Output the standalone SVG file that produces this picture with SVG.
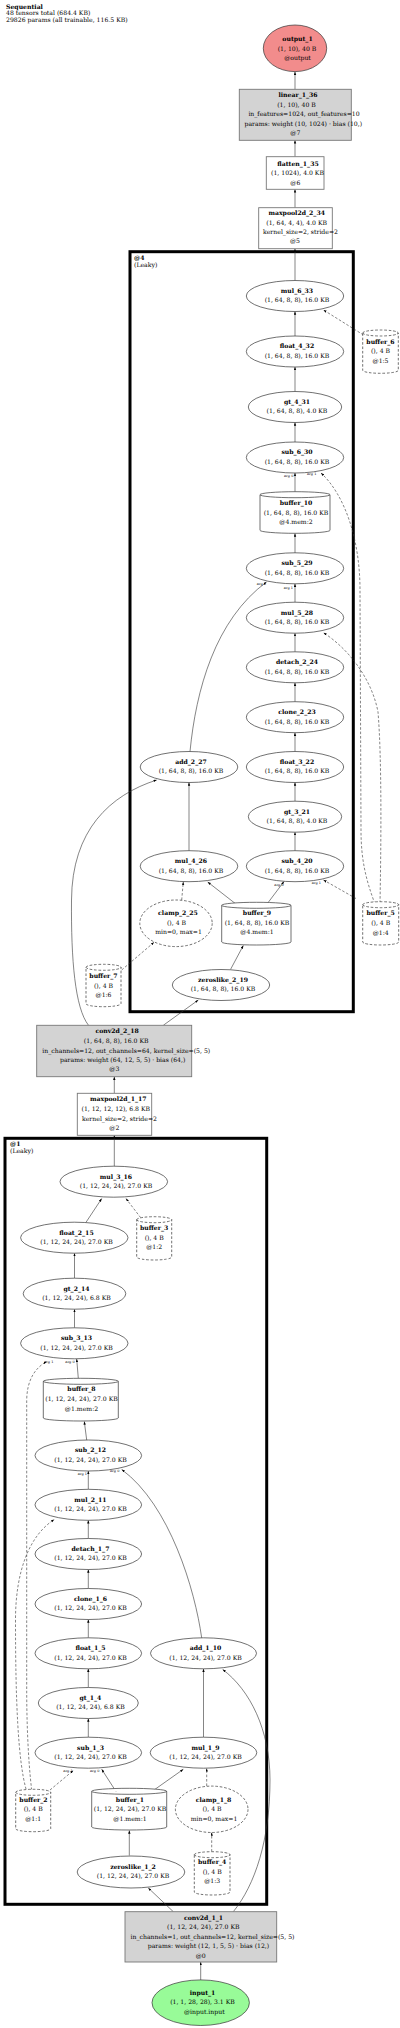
<svg xmlns="http://www.w3.org/2000/svg" width="400" height="2028" viewBox="0 0 400 2028">
<style>
.t{font-family:"DejaVu Serif","Liberation Serif",serif;font-size:6.15px;fill:#000;text-anchor:middle}
.l{text-anchor:start}
.b{font-weight:bold}
.a{font-size:3.5px}
.n{fill:#fff;stroke:#333;stroke-width:0.7}
.bx{fill:#fff;stroke:#777;stroke-width:0.9}
.g{fill:#d3d3d3}
.d{stroke-dasharray:2.6,1.8}
.c{fill:none;stroke:#000;stroke-width:3}
.e{fill:none;stroke:#333;stroke-width:0.6;marker-end:url(#ah)}
</style>
<defs>
<marker id="ah" markerUnits="userSpaceOnUse" markerWidth="4" markerHeight="3" refX="3.2" refY="1.2" orient="auto"><path d="M0,0 L3.2,1.2 L0,2.4z" fill="#000"/></marker>
</defs>
<rect width="400" height="2028" fill="#fff"/>
<g id="header">
<text class="t l b" x="6" y="8.5">Sequential</text>
<text class="t l" x="6" y="15.3">48 tensors total (684.4 KB)</text>
<text class="t l" x="6" y="22">29826 params (all trainable, 116.5 KB)</text>
</g>
<g id="cluster_4">
<rect class="c" x="130" y="251.7" width="223.3" height="760"/>
<text class="t l b" x="134" y="259.6">@4</text>
<text class="t l" x="134" y="266.6">(Leaky)</text>
</g>
<g id="cluster_1">
<rect class="c" x="5" y="1138.3" width="261.7" height="766"/>
<text class="t l b" x="10" y="1146">@1</text>
<text class="t l" x="10" y="1152.6">(Leaky)</text>
</g>
<g id="edges">
<path class="e" d="M295,89.3 L295,71.8"/>
<path class="e" d="M295,156.7 L295,140.3"/>
<path class="e" d="M295,207.7 L295,189.3"/>
<path class="e" d="M295,280.5 L295,248.7"/>
<path class="e" d="M295,336 L295,311.5"/>
<path class="e d" d="M363.5,335 L323.5,310"/>
<path class="e" d="M295,391.5 L295,367"/>
<path class="e" d="M295,442 L295,422.5"/>
<path class="e" d="M295,491.7 L295,473"/>
<path class="e d" d="M375,904 C 366,880 361,860 361,830 L360,590 C 360,540 345,495 321,473"/>
<path class="e" d="M295,553 L295,533.5"/>
<path class="e" d="M295,602.2 L295,583.8"/>
<path class="e" d="M190,751.5 C 196,690 215,620 266.5,582"/>
<path class="e" d="M295,651.8 L295,633.2"/>
<path class="e d" d="M380,903 C 381,850 382,760 378,712 C 372,680 350,650 323.5,632.7"/>
<path class="e" d="M295,701.7 L295,682.8"/>
<path class="e" d="M295,751.5 L295,732.7"/>
<path class="e" d="M295,801.2 L295,782.5"/>
<path class="e" d="M295,850.7 L295,832.2"/>
<path class="e" d="M268.3,902.3 L284,881.5"/>
<path class="e d" d="M356,898.5 L323.5,880"/>
<path class="e" d="M235,903.3 L207.7,882"/>
<path class="e d" d="M181.7,900 L183.3,881.7"/>
<path class="e" d="M189,850.7 L189,782.5"/>
<path class="e d" d="M121.7,970 L154,942.3"/>
<path class="e" d="M230.5,969.5 L243.3,945.5"/>
<path class="e" d="M163.3,1025.3 L198.3,1000"/>
<path class="e" d="M88.5,1025.3 C 75,1008 71,960 71.5,900 C 72,830 110,795 156.7,780"/>
<path class="e" d="M114.3,1093.3 L114.3,1076.7"/>
<path class="e" d="M114.3,1166.2 L114.3,1135.3"/>
<path class="e" d="M86,1222.3 L101.7,1198.6"/>
<path class="e d" d="M140.7,1217.7 L126,1198.6"/>
<path class="e" d="M74.5,1278.2 L74.5,1253.2"/>
<path class="e" d="M74.5,1327.8 L74.5,1309.2"/>
<path class="e" d="M78.3,1378.3 L76.7,1359"/>
<path class="e d" d="M31.7,1790 C 28,1760 26.7,1720 26.7,1690 L26.7,1400 C 27,1380 35,1368 46.7,1361.5"/>
<path class="e d" d="M26,1789 C 18,1760 15.5,1700 15.5,1620 C 15.5,1570 30,1535 54.3,1519.5"/>
<path class="e" d="M88.3,1489.3 L88.3,1471"/>
<path class="e" d="M201.7,1638 C 195,1590 170,1505 121.7,1469.5"/>
<path class="e" d="M86.7,1440 L84.3,1421.5"/>
<path class="e" d="M88.3,1538.5 L88.3,1520.3"/>
<path class="e" d="M88.3,1588.5 L88.3,1569.5"/>
<path class="e" d="M88.3,1637.8 L88.3,1619.5"/>
<path class="e" d="M88.3,1687.5 L88.3,1668.8"/>
<path class="e" d="M88.3,1737.2 L88.3,1718.5"/>
<path class="e d" d="M50,1790 L73.3,1770.5"/>
<path class="e" d="M116,1791.5 L101.7,1769.3"/>
<path class="e" d="M153.3,1790.5 L183.3,1769.3"/>
<path class="e d" d="M206.7,1786 L206.7,1768.3"/>
<path class="e d" d="M211.7,1851.7 L211.7,1832.5"/>
<path class="e" d="M203.5,1737.2 L203.5,1668.8"/>
<path class="e" d="M233.3,1911.7 C 255,1885 270,1840 270,1780 C 270,1730 250,1690 222.7,1669.5"/>
<path class="e" d="M129.3,1855.5 L129.3,1830.5"/>
<path class="e" d="M173.3,1911.7 L148.3,1888"/>
<path class="e" d="M200.7,1980 L200.7,1962"/>
<text class="t a" x="288.7" y="476.9">arg 0</text>
<text class="t a" x="311.7" y="475.2">arg 1</text>
<text class="t a" x="261.3" y="585.2">arg 0</text>
<text class="t a" x="288.3" y="588.5">arg 1</text>
<text class="t a" x="279" y="885.9">arg 0</text>
<text class="t a" x="316.3" y="883.5">arg 1</text>
<text class="t a" x="48.7" y="1362.5">arg 1</text>
<text class="t a" x="70" y="1363.2">arg 0</text>
<text class="t a" x="82.3" y="1474.9">arg 1</text>
<text class="t a" x="114.7" y="1471.5">arg 0</text>
<text class="t a" x="68" y="1771.9">arg 1</text>
<text class="t a" x="94.7" y="1771.9">arg 0</text>
</g>
<g id="output_1">
<ellipse class="n" cx="295" cy="48.3" rx="31.7" ry="23.3" style="fill:#f28c8c"/>
<text class="t b" x="297.5" y="41.1">output_1</text>
<text class="t" x="297" y="51.1">(1, 10), 40 B</text>
<text class="t" x="297.5" y="60.4">@output</text>
</g>
<g id="linear_1_36">
<rect class="bx g" x="239.3" y="89.3" width="112" height="51"/>
<text class="t b" x="298" y="97.4">linear_1_36</text>
<text class="t" x="296.5" y="107.4">(1, 10), 40 B</text>
<text class="t" x="304" y="116.4">in_features=1024, out_features=10</text>
<text class="t" x="303.3" y="125.8">params: weight (10, 1024) · bias (10,)</text>
<text class="t" x="295.3" y="135.4">@7</text>
</g>
<g id="flatten_1_35">
<rect class="bx" x="266.3" y="156.7" width="57.7" height="32.6"/>
<text class="t b" x="298" y="165.8">flatten_1_35</text>
<text class="t" x="297.5" y="175.4">(1, 1024), 4.0 KB</text>
<text class="t" x="295.3" y="185.1">@6</text>
</g>
<g id="maxpool2d_2_34">
<rect class="bx" x="258.7" y="207.7" width="73.6" height="41"/>
<text class="t b" x="296.7" y="215.4">maxpool2d_2_34</text>
<text class="t" x="296.7" y="225.1">(1, 64, 4, 4), 4.0 KB</text>
<text class="t" x="300.5" y="234.4">kernel_size=2, stride=2</text>
<text class="t" x="295" y="243.4">@5</text>
</g>
<g id="mul_6_33"><ellipse class="n" cx="295" cy="296" rx="48.7" ry="15.5"/><text class="t b" x="297" y="292.8">mul_6_33</text><text class="t" x="297" y="302.4">(1, 64, 8, 8), 16.0 KB</text></g>
<g id="buffer_6"><path class="n d" d="M362.7,333 A17.8,3 0 0 1 398.3,333 V370.3 A17.8,3 0 0 1 362.7,370.3 Z M362.7,333 A17.8,3 0 0 0 398.3,333"/><text class="t b" x="380.5" y="343.6">buffer_6</text><text class="t" x="380.5" y="353.4">(), 4 B</text><text class="t" x="380.5" y="362.9">@1:5</text></g>
<g id="float_4_32"><ellipse class="n" cx="295" cy="351.5" rx="48.7" ry="15.5"/><text class="t b" x="297" y="348.3">float_4_32</text><text class="t" x="297" y="357.9">(1, 64, 8, 8), 16.0 KB</text></g>
<g id="gt_4_31"><ellipse class="n" cx="295" cy="407" rx="46.7" ry="15.5"/><text class="t b" x="297" y="403.8">gt_4_31</text><text class="t" x="297" y="413.4">(1, 64, 8, 8), 4.0 KB</text></g>
<g id="sub_6_30"><ellipse class="n" cx="295" cy="457.5" rx="48.7" ry="15.5"/><text class="t b" x="297" y="454.3">sub_6_30</text><text class="t" x="297" y="463.9">(1, 64, 8, 8), 16.0 KB</text></g>
<g id="buffer_10"><path class="n" d="M260,494.7 A35,3 0 0 1 330,494.7 V530.3 A35,3 0 0 1 260,530.3 Z M260,494.7 A35,3 0 0 0 330,494.7"/><text class="t b" x="296" y="505.2">buffer_10</text><text class="t" x="296" y="514.6">(1, 64, 8, 8), 16.0 KB</text><text class="t" x="296" y="524.2">@4.mem:2</text></g>
<g id="sub_5_29"><ellipse class="n" cx="295" cy="568.3" rx="48.7" ry="15.5"/><text class="t b" x="297" y="565.1">sub_5_29</text><text class="t" x="297" y="574.7">(1, 64, 8, 8), 16.0 KB</text></g>
<g id="mul_5_28"><ellipse class="n" cx="295" cy="617.7" rx="48.7" ry="15.5"/><text class="t b" x="297" y="614.5">mul_5_28</text><text class="t" x="297" y="624.1">(1, 64, 8, 8), 16.0 KB</text></g>
<g id="detach_2_24"><ellipse class="n" cx="295" cy="667.3" rx="48.7" ry="15.5"/><text class="t b" x="297" y="664.1">detach_2_24</text><text class="t" x="297" y="673.7">(1, 64, 8, 8), 16.0 KB</text></g>
<g id="clone_2_23"><ellipse class="n" cx="295" cy="717.2" rx="48.7" ry="15.5"/><text class="t b" x="297" y="714">clone_2_23</text><text class="t" x="297" y="723.6">(1, 64, 8, 8), 16.0 KB</text></g>
<g id="float_3_22"><ellipse class="n" cx="295" cy="767" rx="48.7" ry="15.5"/><text class="t b" x="297" y="763.8">float_3_22</text><text class="t" x="297" y="773.4">(1, 64, 8, 8), 16.0 KB</text></g>
<g id="add_2_27"><ellipse class="n" cx="189" cy="767" rx="48.8" ry="15.5"/><text class="t b" x="191" y="763.8">add_2_27</text><text class="t" x="191" y="773.4">(1, 64, 8, 8), 16.0 KB</text></g>
<g id="gt_3_21"><ellipse class="n" cx="295" cy="816.7" rx="46.7" ry="15.5"/><text class="t b" x="297" y="813.5">gt_3_21</text><text class="t" x="297" y="823.1">(1, 64, 8, 8), 4.0 KB</text></g>
<g id="sub_4_20"><ellipse class="n" cx="295" cy="866.2" rx="48.7" ry="15.5"/><text class="t b" x="297" y="863">sub_4_20</text><text class="t" x="297" y="872.6">(1, 64, 8, 8), 16.0 KB</text></g>
<g id="mul_4_26"><ellipse class="n" cx="189" cy="866.2" rx="48.8" ry="15.5"/><text class="t b" x="191" y="863">mul_4_26</text><text class="t" x="191" y="872.6">(1, 64, 8, 8), 16.0 KB</text></g>
<g id="clamp_2_25"><ellipse class="n d" cx="176" cy="923.3" rx="36.2" ry="23.3"/><text class="t b" x="178" y="915.2">clamp_2_25</text><text class="t" x="176.5" y="924.6">(), 4 B</text><text class="t" x="178.5" y="933.9">min=0, max=1</text></g>
<g id="buffer_9"><path class="n" d="M221.7,905.3 A34.65,3 0 0 1 291,905.3 V942 A34.65,3 0 0 1 221.7,942 Z M221.7,905.3 A34.65,3 0 0 0 291,905.3"/><text class="t b" x="257" y="914.9">buffer_9</text><text class="t" x="257" y="924.6">(1, 64, 8, 8), 16.0 KB</text><text class="t" x="257" y="934.2">@4.mem:1</text></g>
<g id="buffer_5"><path class="n d" d="M362.7,904.7 A18,3 0 0 1 398.7,904.7 V942 A18,3 0 0 1 362.7,942 Z M362.7,904.7 A18,3 0 0 0 398.7,904.7"/><text class="t b" x="380.7" y="915.2">buffer_5</text><text class="t" x="380.7" y="924.9">(), 4 B</text><text class="t" x="380.7" y="934.6">@1:4</text></g>
<g id="zeroslike_2_19"><ellipse class="n" cx="221" cy="985" rx="48.7" ry="15.5"/><text class="t b" x="223" y="981.8">zeroslike_2_19</text><text class="t" x="223" y="991.4">(1, 64, 8, 8), 16.0 KB</text></g>
<g id="buffer_7"><path class="n d" d="M86,967.3 A17.5,3 0 0 1 121,967.3 V1003.7 A17.5,3 0 0 1 86,1003.7 Z M86,967.3 A17.5,3 0 0 0 121,967.3"/><text class="t b" x="103.5" y="977.6">buffer_7</text><text class="t" x="103.5" y="987.6">(), 4 B</text><text class="t" x="103.5" y="997.2">@1:6</text></g>
<g id="conv2d_2_18">
<rect class="bx g" x="36.7" y="1025.3" width="155" height="51.4"/>
<text class="t b" x="117.2" y="1033.2">conv2d_2_18</text>
<text class="t" x="116.2" y="1042.9">(1, 64, 8, 8), 16.0 KB</text>
<text class="t" x="126.3" y="1052.6">in_channels=12, out_channels=64, kernel_size=(5, 5)</text>
<text class="t" x="122.7" y="1061.9">params: weight (64, 12, 5, 5) · bias (64,)</text>
<text class="t" x="114.3" y="1071.2">@3</text>
</g>
<g id="maxpool2d_1_17">
<rect class="bx" x="77.3" y="1093.3" width="74.4" height="42"/>
<text class="t b" x="118.3" y="1101.2">maxpool2d_1_17</text>
<text class="t" x="115.8" y="1111.2">(1, 12, 12, 12), 6.8 KB</text>
<text class="t" x="119.5" y="1120.6">kernel_size=2, stride=2</text>
<text class="t" x="114.3" y="1130.2">@2</text>
</g>
<g id="mul_3_16"><ellipse class="n" cx="113.8" cy="1181.7" rx="53.8" ry="15.5"/><text class="t b" x="116" y="1178.5">mul_3_16</text><text class="t" x="116" y="1188.1">(1, 12, 24, 24), 27.0 KB</text></g>
<g id="float_2_15"><ellipse class="n" cx="74.3" cy="1237.7" rx="53.7" ry="15.5"/><text class="t b" x="76.5" y="1234.5">float_2_15</text><text class="t" x="76.5" y="1244.1">(1, 12, 24, 24), 27.0 KB</text></g>
<g id="buffer_3"><path class="n d" d="M136.7,1219.7 A17.5,3 0 0 1 171.7,1219.7 V1257 A17.5,3 0 0 1 136.7,1257 Z M136.7,1219.7 A17.5,3 0 0 0 171.7,1219.7"/><text class="t b" x="154.2" y="1230.2">buffer_3</text><text class="t" x="154.2" y="1239.6">(), 4 B</text><text class="t" x="154.2" y="1249.2">@1:2</text></g>
<g id="gt_2_14"><ellipse class="n" cx="74.5" cy="1293.7" rx="51.3" ry="15.5"/><text class="t b" x="76.5" y="1290.5">gt_2_14</text><text class="t" x="76.5" y="1300.1">(1, 12, 24, 24), 6.8 KB</text></g>
<g id="sub_3_13"><ellipse class="n" cx="74.3" cy="1343.3" rx="53.7" ry="15.5"/><text class="t b" x="76.5" y="1340.1">sub_3_13</text><text class="t" x="76.5" y="1349.7">(1, 12, 24, 24), 27.0 KB</text></g>
<g id="buffer_8"><path class="n" d="M43.3,1381.3 A37.5,3 0 0 1 118.3,1381.3 V1418 A37.5,3 0 0 1 43.3,1418 Z M43.3,1381.3 A37.5,3 0 0 0 118.3,1381.3"/><text class="t b" x="81.5" y="1391.2">buffer_8</text><text class="t" x="81.5" y="1400.9">(1, 12, 24, 24), 27.0 KB</text><text class="t" x="81.5" y="1410.6">@1.mem:2</text></g>
<g id="sub_2_12"><ellipse class="n" cx="88.3" cy="1455.5" rx="53.3" ry="15.5"/><text class="t b" x="90.5" y="1452.3">sub_2_12</text><text class="t" x="90.5" y="1461.9">(1, 12, 24, 24), 27.0 KB</text></g>
<g id="mul_2_11"><ellipse class="n" cx="88.3" cy="1504.8" rx="53.3" ry="15.5"/><text class="t b" x="90.5" y="1501.6">mul_2_11</text><text class="t" x="90.5" y="1511.2">(1, 12, 24, 24), 27.0 KB</text></g>
<g id="detach_1_7"><ellipse class="n" cx="88.3" cy="1554" rx="53.3" ry="15.5"/><text class="t b" x="90.5" y="1550.8">detach_1_7</text><text class="t" x="90.5" y="1560.4">(1, 12, 24, 24), 27.0 KB</text></g>
<g id="clone_1_6"><ellipse class="n" cx="88.3" cy="1604" rx="53.3" ry="15.5"/><text class="t b" x="90.5" y="1600.8">clone_1_6</text><text class="t" x="90.5" y="1610.4">(1, 12, 24, 24), 27.0 KB</text></g>
<g id="float_1_5"><ellipse class="n" cx="88.3" cy="1653.3" rx="53.3" ry="15.5"/><text class="t b" x="90.5" y="1650.1">float_1_5</text><text class="t" x="90.5" y="1659.7">(1, 12, 24, 24), 27.0 KB</text></g>
<g id="add_1_10"><ellipse class="n" cx="203.5" cy="1653.3" rx="53" ry="15.5"/><text class="t b" x="205.5" y="1650.1">add_1_10</text><text class="t" x="205.5" y="1659.7">(1, 12, 24, 24), 27.0 KB</text></g>
<g id="gt_1_4"><ellipse class="n" cx="88.3" cy="1703" rx="50" ry="15.5"/><text class="t b" x="90.5" y="1699.8">gt_1_4</text><text class="t" x="90.5" y="1709.4">(1, 12, 24, 24), 6.8 KB</text></g>
<g id="sub_1_3"><ellipse class="n" cx="88.3" cy="1752.7" rx="53.3" ry="15.5"/><text class="t b" x="90.5" y="1749.5">sub_1_3</text><text class="t" x="90.5" y="1759.1">(1, 12, 24, 24), 27.0 KB</text></g>
<g id="mul_1_9"><ellipse class="n" cx="203.5" cy="1752.7" rx="53.3" ry="15.5"/><text class="t b" x="205.5" y="1749.5">mul_1_9</text><text class="t" x="205.5" y="1759.1">(1, 12, 24, 24), 27.0 KB</text></g>
<g id="buffer_2"><path class="n d" d="M15.7,1792.3 A17.5,3 0 0 1 50.7,1792.3 V1828.7 A17.5,3 0 0 1 15.7,1828.7 Z M15.7,1792.3 A17.5,3 0 0 0 50.7,1792.3"/><text class="t b" x="33.5" y="1801.9">buffer_2</text><text class="t" x="33.2" y="1811.2">(), 4 B</text><text class="t" x="33.2" y="1820.9">@1:1</text></g>
<g id="buffer_1"><path class="n" d="M91.7,1791.3 A37.5,3 0 0 1 166.7,1791.3 V1827 A37.5,3 0 0 1 91.7,1827 Z M91.7,1791.3 A37.5,3 0 0 0 166.7,1791.3"/><text class="t b" x="130" y="1801.6">buffer_1</text><text class="t" x="130" y="1811.2">(1, 12, 24, 24), 27.0 KB</text><text class="t" x="130" y="1820.9">@1.mem:1</text></g>
<g id="clamp_1_8"><ellipse class="n d" cx="211.7" cy="1809.3" rx="36.3" ry="23.2"/><text class="t b" x="213.5" y="1801.9">clamp_1_8</text><text class="t" x="212" y="1811.2">(), 4 B</text><text class="t" x="214" y="1820.9">min=0, max=1</text></g>
<g id="buffer_4"><path class="n d" d="M194.3,1854.7 A17.85,3 0 0 1 230,1854.7 V1892 A17.85,3 0 0 1 194.3,1892 Z M194.3,1854.7 A17.85,3 0 0 0 230,1854.7"/><text class="t b" x="212.2" y="1864.2">buffer_4</text><text class="t" x="212.2" y="1873.6">(), 4 B</text><text class="t" x="212.2" y="1882.9">@1:3</text></g>
<g id="zeroslike_1_2"><ellipse class="n" cx="131" cy="1872" rx="53.8" ry="16"/><text class="t b" x="133" y="1868.8">zeroslike_1_2</text><text class="t" x="133" y="1878.4">(1, 12, 24, 24), 27.0 KB</text></g>
<g id="conv2d_1_1">
<rect class="bx g" x="125" y="1911.7" width="151.7" height="50.3"/>
<text class="t b" x="203.5" y="1919.6">conv2d_1_1</text>
<text class="t" x="203.3" y="1929.2">(1, 12, 24, 24), 27.0 KB</text>
<text class="t" x="212.5" y="1938.9">in_channels=1, out_channels=12, kernel_size=(5, 5)</text>
<text class="t" x="208.5" y="1948.2">params: weight (12, 1, 5, 5) · bias (12,)</text>
<text class="t" x="200.7" y="1957.6">@0</text>
</g>
<g id="input_1">
<ellipse class="n" cx="200.7" cy="2002.7" rx="48.7" ry="22.8" style="fill:#98fb98"/>
<text class="t b" x="202.5" y="1994.6">input_1</text>
<text class="t" x="202.5" y="2004.2">(1, 1, 28, 28), 3.1 KB</text>
<text class="t" x="204.3" y="2013.9">@input.input</text>
</g>
</svg>
